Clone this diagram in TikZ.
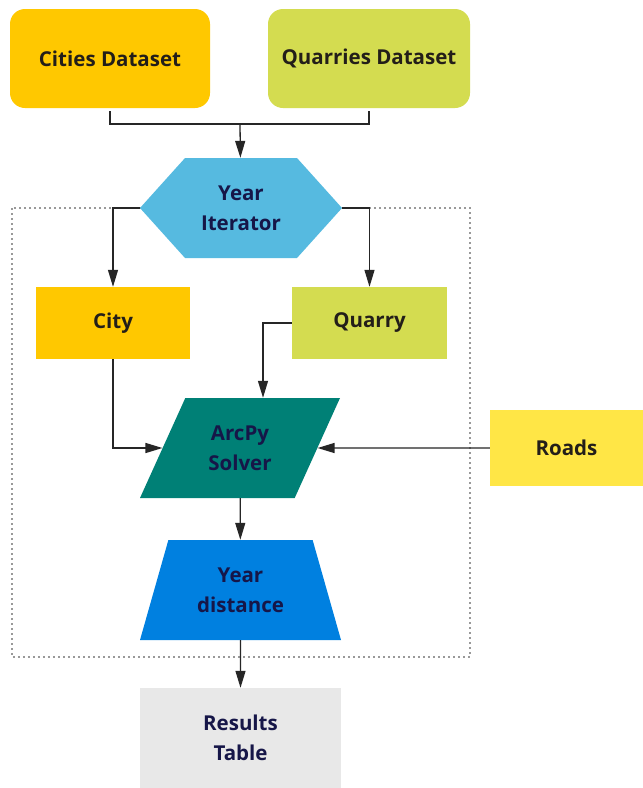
\documentclass[tikz,border=0pt]{standalone}
\usepackage{fontspec}
\setmainfont{Open Sans}
\usetikzlibrary{shapes.geometric,shapes.symbols,arrows.meta}
\definecolor{citycol}{RGB}{255,200,0}
\definecolor{quarrycol}{RGB}{212,220,80}
\definecolor{itercol}{RGB}{86,186,224}
\definecolor{solvercol}{RGB}{0,128,118}
\definecolor{distcol}{RGB}{0,128,224}
\definecolor{roadcol}{RGB}{255,230,70}
\definecolor{resultcol}{RGB}{232,232,232}
\definecolor{navytext}{RGB}{22,22,72}
\definecolor{darktext}{RGB}{35,30,25}
\tikzset{
  every node/.style={font=\fontsize{20.5}{30}\selectfont\bfseries, align=center},
  dataset/.style={rectangle, rounded corners=15pt, minimum width=200pt, minimum height=99pt, text=darktext},
  itembox/.style={rectangle, minimum width=154pt, minimum height=72pt, text=darktext},
  slanted/.style={trapezium, trapezium stretches body, inner xsep=0pt, inner ysep=24pt, minimum height=100pt, text=navytext},
  flow/.style={draw=black!85, line width=1.3pt, -{Triangle[length=17pt,width=10pt]}},
  link/.style={draw=black!85, line width=1.3pt},
}
\begin{document}
\begin{tikzpicture}[x=1pt,y=-1pt]
\useasboundingbox[fill=white] (0,0) rectangle (643,788);
% Drawing the loop frame
\coordinate (frameNW) at (12,208);
\coordinate (frameSE) at (470,657);
\draw[black!40, line width=2pt, dash pattern=on 2pt off 3pt] (frameNW) rectangle (frameSE);
% Inputs
\node[dataset, fill=citycol] (cities) at (110,58.5) {Cities Dataset};
\node[dataset, fill=quarrycol, minimum width=202pt] (quarries) at (369,58.5) {Quarries Dataset};
% Iterator
\node[signal, signal to=east and west, signal pointer angle=96, fill=itercol,
  minimum width=202pt, minimum height=100pt, inner sep=0pt, text=navytext] (year) at (241,208) {Year\\Iterator};
% Loop body
\node[itembox, fill=citycol] (city) at (113,323) {City};
\node[itembox, fill=quarrycol, minimum width=155pt] (quarry) at (369.5,323) {Quarry};
\node[slanted, trapezium left angle=64, trapezium right angle=116,
  fill=solvercol, minimum width=200pt] (solver) at (240,448) {ArcPy\\Solver};
\node[rectangle, fill=roadcol, minimum width=153pt, minimum height=76pt, text=darktext] (roads) at (566.5,448) {Roads};
\node[slanted, trapezium left angle=73, trapezium right angle=73,
  fill=distcol, minimum width=201pt] (dist) at (240.5,590) {Year\\distance};
% Output
\node[rectangle, fill=resultcol, minimum width=201pt, minimum height=100pt, text=navytext] (results) at (240.5,738) {Results\\Table};
% Connectors
\coordinate (merge) at (240,124);
\draw[link, shorten <=3pt] (cities.south) |- (merge);
\draw[link, shorten <=3pt] (quarries.south) |- (merge);
\draw[flow] (merge) -- (year);
\draw[flow] (year.west) -| (city.north);
\draw[flow] (year.east) -| (quarry.north);
\draw[flow] (quarry.west) -| ([xshift=23pt]solver.north);
\draw[flow] (city.south) |- (solver);
\draw[flow] (roads) -- (solver);
\draw[flow] (solver) -- (dist);
\draw[flow] (dist) -- (results);
\end{tikzpicture}
\end{document}
